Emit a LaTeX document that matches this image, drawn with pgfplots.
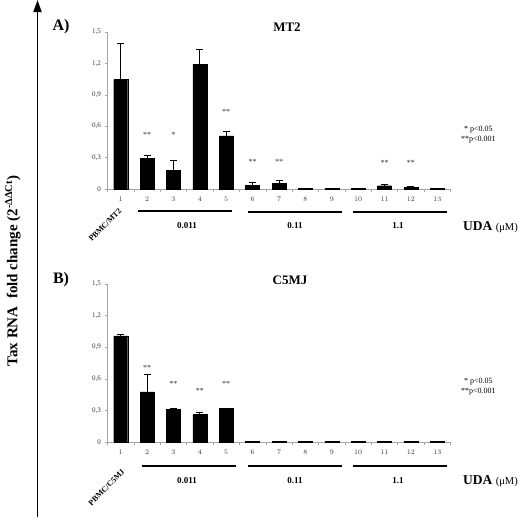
\documentclass[border=0pt]{standalone}
\usepackage{fontspec}
\setmainfont{Liberation Serif}
\usepackage{pgfplots}
\usepackage{pgfplotstable}
\pgfplotsset{compat=1.18}
\usetikzlibrary{arrows.meta}

\pgfplotstableread{
x y e
1 1.045 0.350
2 0.292 0.026
3 0.181 0.090
4 1.190 0.145
5 0.508 0.040
6 0.038 0.022
7 0.054 0.029
8 0.008 0.000
9 0.008 0.000
10 0.008 0.000
11 0.032 0.012
12 0.015 0.010
13 0.008 0.000
}\mttable

\pgfplotstableread{
x y e
1 1.008 0.016
2 0.476 0.164
3 0.308 0.009
4 0.263 0.022
5 0.317 0.000
6 0.008 0.000
7 0.008 0.000
8 0.008 0.000
9 0.008 0.000
10 0.008 0.000
11 0.008 0.000
12 0.008 0.000
13 0.008 0.000
}\cfivetable

\tikzset{starlbl/.style={font=\fontsize{8bp}{9bp}\selectfont, text=black!80, anchor=center}}

\pgfplotsset{
  panel/.style={
    scale only axis,
    width=343bp,
    xmin=0.5, xmax=13.5, ymin=0, ymax=1.5,
    axis x line*=bottom, axis y line*=left,
    axis line style={gray!70, line width=0.6bp},
    clip=false,
    xtick={1,...,13},
    every major x tick/.append style={draw=none},
    minor xtick={0.5,1.5,2.5,3.5,4.5,5.5,6.5,7.5,8.5,9.5,10.5,11.5,12.5,13.5},
    tick align=outside,
    major tick length=3bp, minor tick length=3bp,
    tick style={gray!70, line width=0.5bp},
    ytick={0,0.3,0.6,0.9,1.2,1.5},
    yticklabels={0,{0,3},{0,6},{0,9},{1,2},{1,5}},
    tick label style={font=\fontsize{7bp}{8bp}\selectfont, text=black!80},
    xticklabel style={yshift=-1.5bp},
    ybar, bar width=14bp,
  },
  barplot/.style={
    fill=black, draw=black, line width=0.3bp,
    error bars/.cd, y dir=plus, y explicit,
    error bar style={black, line width=0.7bp},
    error mark options={rotate=90, black, line width=0.7bp, mark size=3.5bp},
  },
}

\begin{document}
\begin{tikzpicture}
% big arrow and y label
\draw[line width=1.8bp, -{Triangle[length=12bp,width=8bp]}] (37.5bp,-517bp) -- (37.5bp,0bp);
\node[rotate=90, font=\bfseries\fontsize{15bp}{17bp}\selectfont] at (13bp,-271bp)
  {Tax RNA\ \ fold change (2\textsuperscript{-ΔΔCt})};

% ---------- Panel A ----------
\begin{axis}[panel, at={(107.5bp,-189bp)}, anchor=south west, height=157bp]
\addplot[barplot] table[x=x, y=y, y error=e] {\mttable};
\node[starlbl] at (axis cs:2,0.52) {**};
\node[starlbl] at (axis cs:3,0.52) {*};
\node[starlbl] at (axis cs:5,0.735) {**};
\node[starlbl] at (axis cs:6,0.26) {**};
\node[starlbl] at (axis cs:7,0.26) {**};
\node[starlbl] at (axis cs:11,0.25) {**};
\node[starlbl] at (axis cs:12,0.25) {**};
\end{axis}

\node[font=\bfseries\fontsize{16bp}{18bp}\selectfont] at (61bp,-27bp) {A)};
\node[font=\bfseries\fontsize{13bp}{15bp}\selectfont] at (287bp,-27bp) {MT2};
\node[rotate=45, anchor=east, inner sep=1pt, font=\bfseries\fontsize{8bp}{9bp}\selectfont] at (121bp,-209bp) {PBMC/MT2};
\draw[line width=1.2bp] (138bp,-211bp) -- (232bp,-211bp);
\draw[line width=1.2bp] (248bp,-212bp) -- (342bp,-212bp);
\draw[line width=1.2bp] (353bp,-212bp) -- (447bp,-212bp);
\node[font=\bfseries\fontsize{9bp}{10bp}\selectfont] at (187bp,-226bp) {0.011};
\node[font=\bfseries\fontsize{9bp}{10bp}\selectfont] at (295bp,-226bp) {0.11};
\node[font=\bfseries\fontsize{9bp}{10bp}\selectfont] at (398bp,-226bp) {1.1};
\node[anchor=west, inner sep=0pt] at (463bp,-227bp) {\fontsize{13.5bp}{15bp}\selectfont\bfseries UDA \fontsize{10.5bp}{12bp}\selectfont\mdseries(μM)};
\node[anchor=west, inner sep=0pt, font=\fontsize{8bp}{9bp}\selectfont] at (464bp,-129.5bp) {* p<0.05};
\node[anchor=west, inner sep=0pt, font=\fontsize{8bp}{9bp}\selectfont] at (461bp,-139.5bp) {**p<0.001};

% ---------- Panel B ----------
\begin{axis}[panel, at={(107.5bp,-442bp)}, anchor=south west, height=158bp]
\addplot[barplot] table[x=x, y=y, y error=e] {\cfivetable};
\node[starlbl] at (axis cs:2,0.70) {**};
\node[starlbl] at (axis cs:3,0.55) {**};
\node[starlbl] at (axis cs:4,0.49) {**};
\node[starlbl] at (axis cs:5,0.55) {**};
\end{axis}

\node[font=\bfseries\fontsize{16bp}{18bp}\selectfont] at (61bp,-280bp) {B)};
\node[font=\bfseries\fontsize{13bp}{15bp}\selectfont] at (290bp,-280bp) {C5MJ};
\node[rotate=45, anchor=east, inner sep=1pt, font=\bfseries\fontsize{8bp}{9bp}\selectfont] at (124bp,-470bp) {PBMC/C5MJ};
\draw[line width=1.2bp] (142bp,-466bp) -- (236bp,-466bp);
\draw[line width=1.2bp] (248bp,-466bp) -- (342bp,-466bp);
\draw[line width=1.2bp] (353bp,-466bp) -- (447bp,-466bp);
\node[font=\bfseries\fontsize{9bp}{10bp}\selectfont] at (187bp,-481bp) {0.011};
\node[font=\bfseries\fontsize{9bp}{10bp}\selectfont] at (295bp,-481bp) {0.11};
\node[font=\bfseries\fontsize{9bp}{10bp}\selectfont] at (398bp,-481bp) {1.1};
\node[anchor=west, inner sep=0pt] at (463bp,-481bp) {\fontsize{13.5bp}{15bp}\selectfont\bfseries UDA \fontsize{10.5bp}{12bp}\selectfont\mdseries(μM)};
\node[anchor=west, inner sep=0pt, font=\fontsize{8bp}{9bp}\selectfont] at (464bp,-381.5bp) {* p<0.05};
\node[anchor=west, inner sep=0pt, font=\fontsize{8bp}{9bp}\selectfont] at (461bp,-392bp) {**p<0.001};

\pgfresetboundingbox
\useasboundingbox (0bp,0bp) rectangle (528bp,-521bp);
\end{tikzpicture}
\end{document}
